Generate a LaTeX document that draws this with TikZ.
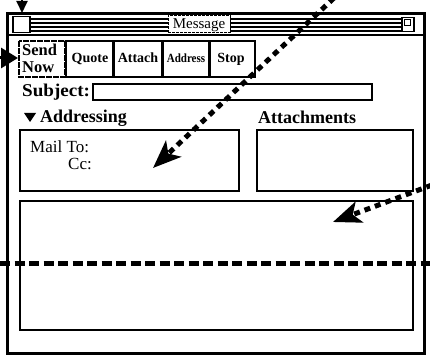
\documentclass[tikz,border=0pt]{standalone}
\usepackage{fontspec}
\setmainfont{Liberation Serif}
\usetikzlibrary{arrows.meta}
\begin{document}
\begin{tikzpicture}[x=1pt,y=-1pt,
  frame/.style={draw=black,line width=3pt},
  btn/.style={draw=black,line width=2pt},
  box/.style={draw=black,line width=1.6pt},
  lbl/.style={inner sep=0pt,anchor=base west,font=\bfseries\fontsize{18}{18}\selectfont},
  btntext/.style={inner sep=0pt,anchor=base,font=\bfseries\fontsize{14}{14}\selectfont},
  stripe/.style={draw=black,line width=1.3pt},
  pointer/.style={line width=5pt,dash pattern=on 6pt off 5pt},
]
\useasboundingbox (0,0) rectangle (430,358);
% window frame
\draw[frame] (7,14) rectangle (424,353);
\draw[line width=2pt] (7,35) -- (424,35);
% title bar stripes
\foreach \y in {19,23,27,31} {
  \draw[stripe] (31,\y) -- (168,\y);
  \draw[stripe] (230,\y) -- (401,\y);
}
\node[draw=black,line width=1.5pt,fill=white,minimum width=17pt,minimum height=16pt,inner sep=0pt] (close) at (21.5,24.5) {};
\node[draw=black,line width=0.8pt,dash pattern=on 3pt off 1pt,fill=white,minimum width=62pt,minimum height=17pt,inner sep=0pt] (titlebox) at (199,24) {};
\node[inner sep=0pt,anchor=base,font=\fontsize{15}{15}\selectfont] (title) at (199,28.5) {Message};
\node[draw=black,line width=1.2pt,fill=white,minimum width=12pt,minimum height=14pt,inner sep=0pt] (zoombox) at (408,24.5) {};
\node[draw=black,line width=0.6pt,minimum width=6pt,minimum height=6pt,inner sep=0pt] (zoomin) at (407,22) {};
% buttons
\draw[btn,dash pattern=on 6pt off 1pt] (19,41) rectangle (65,77);
\draw[btn] (66,41) rectangle (113,77);
\draw[btn] (114,41) rectangle (162,77);
\draw[btn] (163,41) rectangle (209,77);
\draw[btn] (210,41) rectangle (255,77);
\node[inner sep=0pt,anchor=north west,align=left,font=\bfseries\fontsize{16.5}{17}\selectfont] (sendnow) at (22,44) {Send\\Now};
\node[btntext] (quote) at (90,63) {Quote};
\node[btntext] (attach) at (138,63) {Attach};
\node[btntext,font=\bfseries\fontsize{12.5}{12.5}\selectfont] (address) at (186,63) {\scalebox{0.88}[1]{Address}};
\node[btntext] (stop) at (231,63) {Stop};
% subject
\node[lbl] (subject) at (22,97) {\scalebox{1.06}[1]{Subject:}};
\draw[box,line width=1.3pt] (93,84) rectangle (372,100);
% addressing
\fill (24,113) -- (36,113) -- (30,122) -- cycle;
\node[lbl] (addressing) at (40,123) {Addressing};
\node[lbl] (attachments) at (258,124) {Attachments};
\draw[box] (20,130) rectangle (239,191);
\draw[box] (257,130) rectangle (413,191);
\node[inner sep=0pt,anchor=base west,font=\fontsize{17}{17}\selectfont] (mailto) at (30,152) {Mail To:};
\node[inner sep=0pt,anchor=base east,font=\fontsize{17}{17}\selectfont] (cc) at (92,169) {Cc:};
% message body
\draw[box] (20,201) rectangle (413,330);
% dashed divider
\coordinate (dl) at (0,263);
\coordinate (dr) at (430,263);
\draw[line width=5pt,dash pattern=on 10pt off 4.5pt] (dl) -- (dr);
% pointers
\coordinate (a1s) at (22,0);
\coordinate (a1e) at (22,13);
\draw[line width=2pt,-{Triangle[width=11pt,length=12pt]}] (a1s) -- (a1e);
\coordinate (a2s) at (0,58);
\coordinate (a2e) at (18,58);
\draw[line width=3pt,-{Triangle[width=20pt,length=17pt]}] (a2s) -- (a2e);
\coordinate (a3s) at (334,-2);
\coordinate (a3e) at (153,168);
\draw[pointer,-{Stealth[width=22pt,length=28pt,inset=7pt]}] (a3s) -- (a3e);
\coordinate (a4s) at (432,185);
\coordinate (a4e) at (333,222);
\draw[pointer,-{Stealth[width=22pt,length=28pt,inset=7pt]}] (a4s) -- (a4e);
\end{tikzpicture}
\end{document}
